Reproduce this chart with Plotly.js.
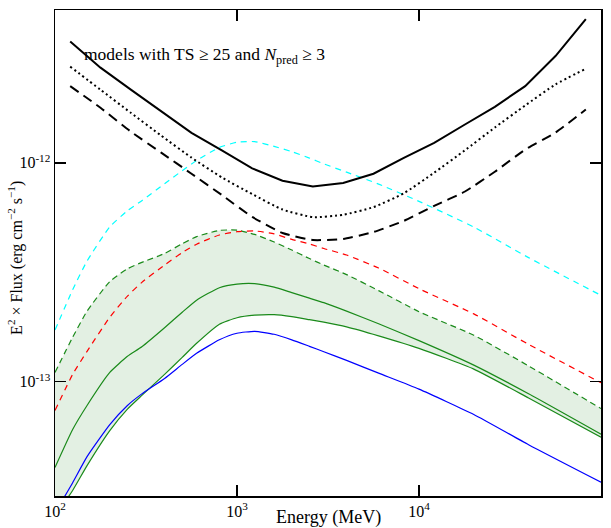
<!DOCTYPE html>
<html>
<head>
<meta charset="utf-8">
<script src="https://cdn.plot.ly/plotly-3.0.1.min.js"></script>
<style>
html,body{margin:0;padding:0;background:#fff;}
#chart{width:611px;height:528px;}
</style>
</head>
<body>
<div id="chart"></div>
<script>
// Energy grid for model curves (MeV)
const energy = [100,125,150,200,250,300,400,500,600,800,1000,1250,1600,2000,2500,3000,4000,6000,10000,20000,40000,100000];
// E^2 x Flux (erg cm^-2 s^-1)
const cyanModel  = [1.72e-13,2.63e-13,3.56e-13,5.10e-13,6.04e-13,6.72e-13,8.03e-13,9.21e-13,1.025e-12,1.177e-12,1.243e-12,1.251e-12,1.190e-12,1.126e-12,1.052e-12,9.90e-13,9.07e-13,8.00e-13,6.67e-13,5.09e-13,3.69e-13,2.48e-13];
const redModel   = [7.38e-14,1.079e-13,1.376e-13,1.970e-13,2.459e-13,2.844e-13,3.412e-13,3.890e-13,4.250e-13,4.681e-13,4.846e-13,4.887e-13,4.735e-13,4.467e-13,4.259e-13,4.061e-13,3.792e-13,3.306e-13,2.660e-13,2.040e-13,1.480e-13,9.88e-14];
const greenUpper = [1.102e-13,1.595e-13,2.099e-13,2.866e-13,3.278e-13,3.510e-13,3.853e-13,4.272e-13,4.601e-13,4.912e-13,4.928e-13,4.709e-13,4.350e-13,3.996e-13,3.653e-13,3.412e-13,3.086e-13,2.607e-13,2.088e-13,1.630e-13,1.180e-13,7.53e-14];
const greenMid   = [4.05e-14,6.04e-14,7.78e-14,1.102e-13,1.305e-13,1.443e-13,1.763e-13,2.077e-13,2.358e-13,2.688e-13,2.792e-13,2.806e-13,2.704e-13,2.551e-13,2.407e-13,2.296e-13,2.100e-13,1.840e-13,1.540e-13,1.190e-13,8.80e-14,5.75e-14];
const greenLow   = [2.43e-14,3.18e-14,4.13e-14,5.97e-14,7.49e-14,8.65e-14,1.079e-13,1.291e-13,1.497e-13,1.830e-13,1.959e-13,2.012e-13,2.023e-13,1.981e-13,1.919e-13,1.870e-13,1.781e-13,1.620e-13,1.420e-13,1.141e-13,8.42e-14,5.57e-14];
const blueModel  = [2.51e-14,3.45e-14,4.54e-14,6.36e-14,7.78e-14,8.79e-14,1.034e-13,1.199e-13,1.347e-13,1.553e-13,1.664e-13,1.699e-13,1.646e-13,1.553e-13,1.450e-13,1.370e-13,1.251e-13,1.093e-13,9.24e-14,7.08e-14,5.15e-14,3.47e-14];

// Sensitivity curves at bin centres (MeV)
const binEnergy = [121.2,177.8,261.0,383.1,562.3,825.4,1212,1778,2610,3831,5623,8254,12115,17783,26102,38312,56234,82540];
const sensSolid  = [3.585e-12,2.725e-12,2.162e-12,1.722e-12,1.372e-12,1.141e-12,9.44e-13,8.29e-13,7.80e-13,8.09e-13,8.92e-13,1.053e-12,1.234e-12,1.494e-12,1.805e-12,2.244e-12,3.080e-12,4.539e-12];
const sensDotted = [2.754e-12,2.160e-12,1.694e-12,1.333e-12,1.057e-12,8.58e-13,7.20e-13,6.12e-13,5.65e-13,5.79e-13,6.28e-13,7.26e-13,9.02e-13,1.138e-12,1.451e-12,1.830e-12,2.284e-12,2.696e-12];
const sensDashed = [2.244e-12,1.786e-12,1.390e-12,1.114e-12,8.92e-13,7.13e-13,5.66e-13,4.78e-13,4.44e-13,4.49e-13,4.83e-13,5.43e-13,6.36e-13,7.38e-13,9.11e-13,1.150e-12,1.376e-12,1.754e-12];

// Tick positions and labels
const xTickVals = [100,1000,10000,100000];
const xTickText = ['10<sup>2</sup>','10<sup>3</sup>','10<sup>4</sup>','10<sup>5</sup>'];
const yTickVals = [1e-13,1e-12];
const yTickText = ['10<sup>-13</sup>','10<sup>-12</sup>'];
const xMinorVals = [200,300,400,500,600,700,800,900,2000,3000,4000,5000,6000,7000,8000,9000,20000,30000,40000,50000,60000,70000,80000,90000];
const yMinorVals = [4e-14,5e-14,6e-14,7e-14,8e-14,9e-14,2e-13,3e-13,4e-13,5e-13,6e-13,7e-13,8e-13,9e-13,2e-12,3e-12,4e-12];

const FONT = 'Liberation Serif, DejaVu Serif, serif';
const smooth = {shape:'spline', smoothing:0.5};
const GREEN = '#1a8a1a';
const XR = [2,5];
const YR = [Math.log10(3e-14), Math.log10(5e-12)];

const traces = [
  {x:energy, y:greenLow, mode:'lines', line:Object.assign({color:GREEN, width:1.2}, smooth), hoverinfo:'skip'},
  {x:energy, y:greenUpper, mode:'lines', fill:'tonexty', fillcolor:'rgba(0,120,0,0.11)',
   line:Object.assign({color:GREEN, width:1.2, dash:'6px,4px'}, smooth), hoverinfo:'skip'},
  {x:energy, y:greenMid, mode:'lines', line:Object.assign({color:GREEN, width:1.2}, smooth), hoverinfo:'skip'},
  {x:energy, y:blueModel, mode:'lines', line:Object.assign({color:'#0000ff', width:1.2}, smooth), hoverinfo:'skip'},
  {x:energy, y:redModel, mode:'lines', line:Object.assign({color:'#ff0000', width:1.2, dash:'6px,5px'}, smooth), hoverinfo:'skip'},
  {x:energy, y:cyanModel, mode:'lines', line:Object.assign({color:'#00ffff', width:1.2, dash:'6px,5px'}, smooth), hoverinfo:'skip'},
  {x:binEnergy, y:sensSolid, mode:'lines', line:{color:'#000', width:2}, hoverinfo:'skip'},
  {x:binEnergy, y:sensDotted, mode:'lines', line:Object.assign({color:'#000', width:2, dash:'2px,3px'}, smooth), hoverinfo:'skip'},
  {x:binEnergy, y:sensDashed, mode:'lines', line:Object.assign({color:'#000', width:2, dash:'10px,6px'}, smooth), hoverinfo:'skip'}
];

const base = {
  type:'log', showgrid:false, zeroline:false,
  showline:true, linecolor:'#000', linewidth:1.5, mirror:'allticks',
  ticks:'inside', tickcolor:'#000', tickmode:'array', layer:'above traces',
  tickfont:{family:FONT, size:16, color:'#000'}
};

const layout = {
  width:611, height:528,
  margin:{l:55, r:10, t:10, b:32},
  paper_bgcolor:'#fff', plot_bgcolor:'rgba(0,0,0,0)',
  showlegend:false,
  font:{family:FONT, size:16, color:'#000'},
  xaxis:Object.assign({}, base, {range:XR, tickvals:xTickVals, ticktext:xTickText, ticklen:11, tickwidth:1.5}),
  yaxis:Object.assign({}, base, {range:YR, tickvals:yTickVals, ticktext:yTickText, ticklen:11, tickwidth:1.5}),
  xaxis2:Object.assign({}, base, {range:XR, overlaying:'x', anchor:'y2', side:'bottom', tickvals:xMinorVals, showticklabels:false, ticklen:6, tickwidth:1.2}),
  yaxis2:Object.assign({}, base, {range:YR, overlaying:'y', anchor:'x2', side:'left', tickvals:yMinorVals, showticklabels:false, ticklen:6, tickwidth:1.2}),
  annotations:[
    {xref:'paper', yref:'paper', x:0.05, y:0.907, xanchor:'left', yanchor:'middle',
     text:'models with TS ≥ 25 and <i>N</i><sub>pred</sub> ≥ 3', showarrow:false,
     font:{family:FONT, size:17.5, color:'#000'}},
    {xref:'paper', yref:'paper', x:0.5, y:-0.044, xanchor:'center', yanchor:'middle',
     text:'Energy (MeV)', showarrow:false, font:{family:FONT, size:18, color:'#000'}},
    {xref:'paper', yref:'paper', x:-0.0714, y:0.49, xanchor:'center', yanchor:'middle', textangle:-90,
     text:'E<sup>2</sup> × Flux (erg cm<sup>−2</sup> s<sup>−1</sup>)', showarrow:false,
     font:{family:FONT, size:16, color:'#000'}}
  ]
};

Plotly.newPlot('chart', traces, layout, {staticPlot:true, displayModeBar:false});
</script>
</body>
</html>
